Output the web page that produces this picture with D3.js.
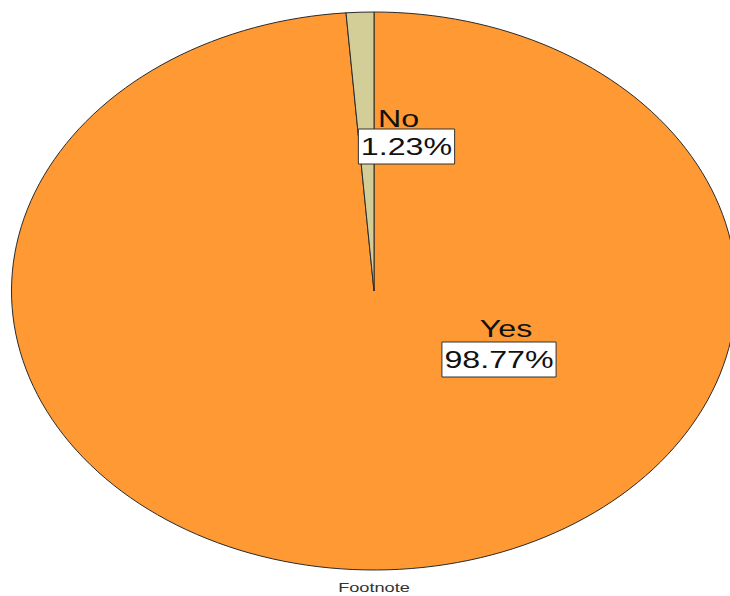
<!DOCTYPE html>
<html>
<head>
<meta charset="utf-8">
<script src="https://cdn.jsdelivr.net/npm/d3@7"></script>
<style>
  html, body { margin: 0; padding: 0; background: #fff; }
  svg { display: block; }
</style>
</head>
<body>
<svg id="chart" width="730" height="596"></svg>
<script>
// ---- data ----
const categories = ["Yes", "No"];
const percents = [98.77, 1.23];
const percentLabels = ["98.77%", "1.23%"];
const footnote = "Footnote";

// ---- layout ----
const W = 730, H = 596;
const cx = 374, cy = 291;
const rx = 362.5, ry = 279;
const sx = rx / ry;           // horizontal stretch of the whole picture
const textStretch = 1.4;
const colors = d3.scaleOrdinal().domain(categories).range(["#ff9933", "#d3ce97"]);

const svg = d3.select("#chart");

const data = categories.map((c, i) => ({ cat: c, value: percents[i], label: percentLabels[i] }));
const pie = d3.pie().sort(null).value(d => d.value);
const arcs = pie(data);
const arc = d3.arc().innerRadius(0).outerRadius(ry);

const pieG = svg.append("g")
  .attr("transform", `translate(${cx},${cy}) scale(${sx},1)`);

pieG.selectAll("path")
  .data(arcs)
  .join("path")
  .attr("d", arc)
  .attr("fill", d => colors(d.data.cat))
  .attr("stroke", "#2a2a2a")
  .attr("stroke-width", 1)
  .attr("stroke-linejoin", "round")
  .attr("vector-effect", "non-scaling-stroke");

// label anchor offsets (relative to pie centre), as positioned in the reference
const labelPos = {
  "Yes": { nameX: 132, nameY: 46, valX: 125, valY: 77 },
  "No":  { nameX: 4,   nameY: -164, valX: 32.5, valY: -136 }
};

const fontFam = "'Liberation Sans', Arial, sans-serif";

arcs.forEach(a => {
  const p = labelPos[a.data.cat];
  // category name
  const nameG = svg.append("g")
    .attr("transform", `translate(${cx + p.nameX},${cy + p.nameY}) scale(${textStretch},1)`);
  nameG.append("text")
    .attr("text-anchor", a.data.cat === "No" ? "start" : "middle")
    .attr("font-family", fontFam)
    .attr("font-size", 23)
    .attr("fill", "#111")
    .text(a.data.cat);

  // value box
  const valG = svg.append("g")
    .attr("transform", `translate(${cx + p.valX},${cy + p.valY})`);
  const inner = valG.append("g").attr("transform", `scale(${textStretch},1)`);
  const rect = inner.append("rect");
  const t = inner.append("text")
    .attr("text-anchor", "middle")
    .attr("font-family", fontFam)
    .attr("font-size", 23)
    .attr("fill", "#111")
    .text(a.data.label);
  const bb = t.node().getBBox();
  const padX = 2.5 / textStretch;
  rect.attr("x", bb.x - padX)
    .attr("y", -26)
    .attr("width", bb.width + 2 * padX)
    .attr("height", 35)
    .attr("fill", "#fff")
    .attr("stroke", "#333")
    .attr("stroke-width", 1)
    .attr("vector-effect", "non-scaling-stroke");
});

// footnote
svg.append("g")
  .attr("transform", `translate(${cx},${592}) scale(1.4,1)`)
  .append("text")
  .attr("text-anchor", "middle")
  .attr("font-family", fontFam)
  .attr("font-size", 13)
  .attr("fill", "#333")
  .text(footnote);
</script>
</body>
</html>
